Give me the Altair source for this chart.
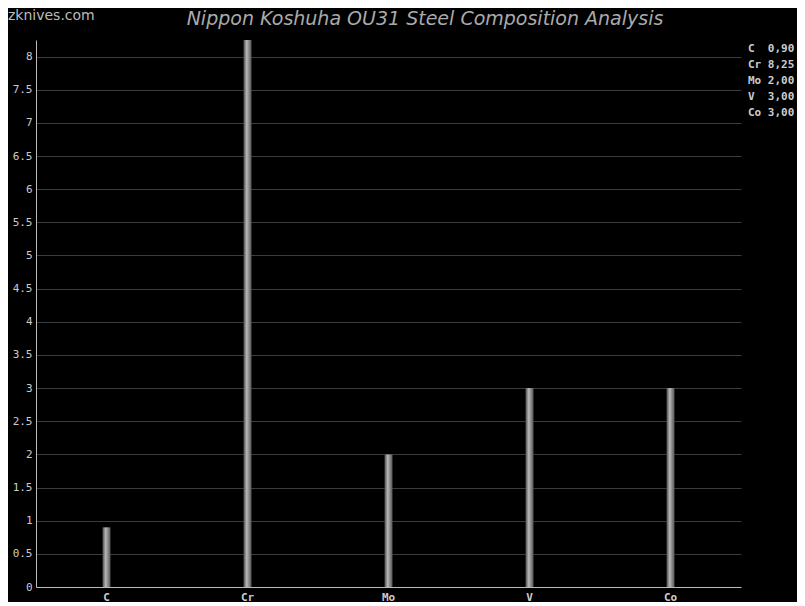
import altair as alt
import pandas as pd

elements = ["C", "Cr", "Mo", "V", "Co"]
values = [0.90, 8.25, 2.00, 3.00, 3.00]
y_ticks = [0, 0.5, 1, 1.5, 2, 2.5, 3, 3.5, 4, 4.5, 5, 5.5, 6, 6.5, 7, 7.5, 8]
title_text = "Nippon Koshuha OU31 Steel Composition Analysis"
watermark = "zknives.com"

df = pd.DataFrame({"element": elements, "value": values})

NB = "\u00a0"
legend_lines = [(e.ljust(3) + f"{v:.2f}".replace(".", ",")).replace(" ", NB)
                for e, v in zip(elements, values)]
legend_df = pd.DataFrame({"t": ["\n".join(legend_lines)]})
wm_df = pd.DataFrame({"t": [watermark]})
title_df = pd.DataFrame({"t": [title_text]})

W, H = 705, 547

grad = alt.Gradient(
    gradient="linear", x1=0, x2=1, y1=0, y2=0,
    stops=[
        alt.GradientStop(offset=0, color="#4a4a4a"),
        alt.GradientStop(offset=0.4, color="#b8b8b8"),
        alt.GradientStop(offset=1, color="#555555"),
    ],
)

bars = alt.Chart(df).mark_bar(size=8, fill=grad).encode(
    x=alt.X("element:N", sort=elements,
            scale=alt.Scale(paddingInner=0, paddingOuter=0),
            axis=alt.Axis(title=None, labelAngle=0, ticks=False, grid=False,
                          domainColor="#bbbbbb", labelColor="#cccccc",
                          labelFont="DejaVu Sans Mono", labelFontSize=11,
                          labelFontWeight="bold", labelPadding=4)),
    y=alt.Y("value:Q", scale=alt.Scale(domain=[0, 8.25], nice=False, zero=True),
            axis=alt.Axis(title=None, values=y_ticks, format="~g", ticks=False,
                          grid=True, gridColor="#3c3c3c", domainColor="#bbbbbb",
                          labelColor="#cccccc", labelFont="DejaVu Sans Mono",
                          labelFontSize=11, labelPadding=4)),
)

legend = alt.Chart(legend_df).mark_text(
    align="left", baseline="middle", font="DejaVu Sans Mono", fontSize=11,
    fontWeight="bold", color="#cccccc", lineHeight=16, lineBreak="\n",
).encode(x=alt.value(712), y=alt.value(9), text="t:N")

wm = alt.Chart(wm_df).mark_text(
    align="left", baseline="top", font="DejaVu Sans", fontSize=14,
    color="#bbbbbb",
).encode(x=alt.value(-28), y=alt.value(-31), text="t:N")

title = alt.Chart(title_df).mark_text(
    align="center", baseline="middle", font="DejaVu Sans", fontSize=19,
    fontStyle="italic", color="#aaaaaa",
).encode(x=alt.value(389), y=alt.value(-21), text="t:N")

chart = alt.layer(bars, legend, wm, title).properties(
    width=W, height=H,
    autosize=alt.AutoSizeParams(type="none"),
    padding={"left": 28, "top": 32, "right": 56, "bottom": 15},
).configure(background="black").configure_view(stroke=None)

chart.save("out.html", embed_options={"renderer": "svg", "actions": False})
